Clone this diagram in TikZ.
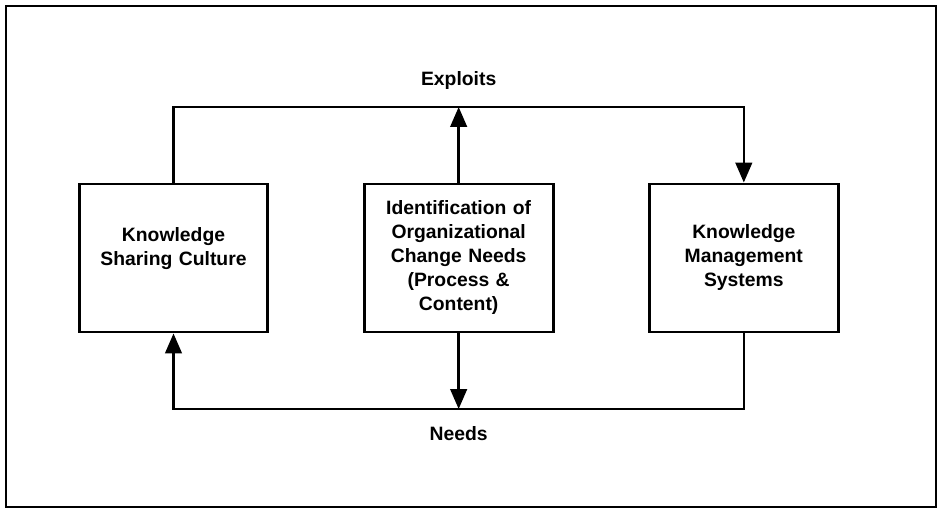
\documentclass[tikz,border=0pt]{standalone}
\usepackage{fontspec}
\setmainfont{Liberation Sans}
\usetikzlibrary{positioning, arrows.meta}

\begin{document}
\begin{tikzpicture}[x=0.75pt, y=-0.75pt, node distance=70pt, >={Triangle[length=15pt,width=12.5pt]},
    font=\bfseries\fontsize{14.5}{18}\selectfont]
    \tikzstyle{block} = [rectangle, draw, line width=2.2pt, minimum width=141pt, minimum height=111pt, text width=135pt, align=center]
    \tikzstyle{link} = [line width=1.8pt]

    \useasboundingbox (0,0) rectangle (941,509);
    \draw[line width=2.2pt] (6,6) rectangle (936,507);

    \node[block] (culture) at (173.5,258) {Knowledge\\Sharing Culture\\~};
    \node[block, right=of culture] (changeneeds) {Identification of\\Organizational\\Change Needs\\(Process \&\\Content)};
    \node[block, right=of changeneeds] (kms) {Knowledge\\Management\\Systems};

    % exploits loop on top
    \coordinate (exploitsline) at (changeneeds.north |- 0,107);
    \draw[link, ->] (culture.north) |- (exploitsline) -| (kms.north);
    \draw[link, ->] (changeneeds.north) -- (exploitsline);
    \node (exploits) at (changeneeds.north |- 0,81) {Exploits};

    % needs loop below
    \coordinate (needsline) at (changeneeds.south |- 0,409);
    \draw[link, ->] (kms.south) |- (needsline) -| (culture.south);
    \draw[link, ->] (changeneeds.south) -- (needsline);
    \node (needs) at (changeneeds.south |- 0,434) {Needs};
\end{tikzpicture}
\end{document}
